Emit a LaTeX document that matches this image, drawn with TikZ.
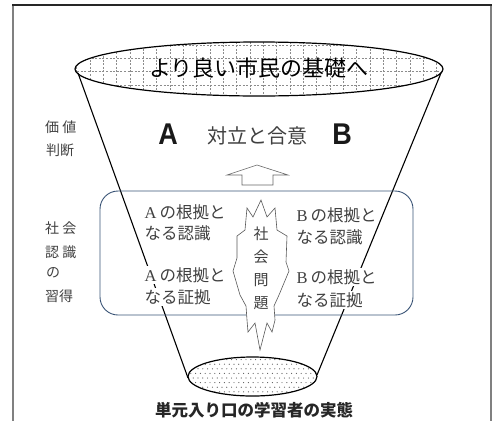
\documentclass[tikz,border=0pt]{standalone}
\usepackage{fontspec}
\setmainfont{Liberation Serif}
\newfontfamily\jp{Noto Sans CJK JP}
\newfontfamily\bigsans{Liberation Sans}
\definecolor{boxblue}{RGB}{58,84,118}
\begin{document}
\begin{tikzpicture}[x=1pt,y=-1pt,
  topline/.style={line width=1.3pt, draw=black!85},
  sideline/.style={line width=1.6pt, draw=black!50},
  gridl/.style={draw=black!45, line width=0.45pt, dash pattern=on 2pt off 1.6pt},
  funnel/.style={line width=1.1pt, draw=black},
  rim/.style={line width=1.2pt, draw=black},
  roundbox/.style={draw=boxblue, line width=0.9pt, rounded corners=18pt},
  hollow/.style={draw=black!60, line width=0.6pt, fill=white},
  jag/.style={draw=black!65, line width=0.6pt, fill=white, line join=miter},
  titletxt/.style={font=\jp\fontsize{22}{22}\selectfont, text=black},
  bigletter/.style={font=\bigsans\bfseries\fontsize{30}{30}\selectfont, text=black!90, xscale=0.9},
  midtxt/.style={font=\jp\fontsize{20}{20}\selectfont, text=black!75},
  lbl/.style={font=\jp\fontsize{14}{14}\selectfont, text=black!75, anchor=west, inner sep=0pt},
  boxtxt/.style={font=\jp\fontsize{16.5}{16.5}\selectfont, text=black!75, fill=white, anchor=west, inner sep=1.5pt},
  vtxt/.style={font=\jp\fontsize{15}{23}\selectfont, text=black!75, align=center, inner sep=0pt},
  entrytxt/.style={font=\jp\bfseries\fontsize{16.5}{16.5}\selectfont, text=black!85}
]
\useasboundingbox (0,0) rectangle (492,421);
% frame
\draw[sideline] (13,5) -- (13,421);
\draw[sideline] (491,5) -- (491,421);
\draw[topline] (12.2,5) -- (491.8,5);
% top ellipse with grid
\begin{scope}
  \clip (259,69) ellipse [x radius=184pt, y radius=27pt];
  \foreach \i in {0,...,28} \draw[gridl] ({76.67+13.33*\i},38) -- ({76.67+13.33*\i},100);
  \foreach \j in {-1,...,3} \draw[gridl] (70,{58.3+13.33*\j}) -- (450,{58.3+13.33*\j});
\end{scope}
% funnel
\coordinate (tl) at (78,73);
\coordinate (tr) at (441,73);
\coordinate (bl) at (188,378);
\coordinate (br) at (317,375);
\draw[funnel] (tl) -- (bl);
\draw[funnel] (tr) -- (br);
\draw[rim] (259,69) ellipse [x radius=184pt, y radius=27pt];
\node[titletxt] (goal) at (259,68) {より良い市民の基礎へ};
% value judgement row
\node[bigletter] (A) at (168,134) {A};
\node[bigletter] (B) at (342,134) {B};
\node[midtxt] (conf) at (257,136) {対立と合意};
% hollow arrow
\draw[hollow] (257,165) -- (288,175) -- (273,175) -- (273,185) -- (242,185) -- (242,175) -- (227,175) -- cycle;
% rounded box
\draw[roundbox] (100,191) rectangle (413,315);
% box texts
\node[boxtxt] (a1) at (143,212) {{\rmfamily A}\hspace{3pt}の根拠と};
\node[boxtxt] (a2) at (143,233) {なる認識};
\node[boxtxt] (a3) at (143,275) {{\rmfamily A}\hspace{3pt}の根拠と};
\node[boxtxt] (a4) at (143,297) {なる証拠};
\node[boxtxt] (b1) at (295,215) {{\rmfamily B}\hspace{3pt}の根拠と};
\node[boxtxt] (b2) at (295,237) {なる認識};
\node[boxtxt] (b3) at (295,277) {{\rmfamily B}\hspace{3pt}の根拠と};
\node[boxtxt] (b4) at (295,300) {なる証拠};
% jagged social issue shape
\draw[jag] (247,208) -- (253,217) -- (261,200) -- (267,217) -- (275,208) -- (277,230)
  -- (287,236) -- (286,262) -- (289,271) -- (279,295) -- (274,306) -- (275,320)
  -- (272,332) -- (267,323) -- (260,350) -- (255,323) -- (248,332) -- (247,320)
  -- (246,306) -- (240,295) -- (233,271) -- (237,258) -- (237,236) -- (245,230) -- cycle;
\node[vtxt] (issue) at (261,268) {社\\会\\問\\題};
% bottom ellipse
\begin{scope}
  \clip (252.5,376.5) ellipse [x radius=64.5pt, y radius=19.5pt];
  \foreach \r in {0,...,9} \foreach \c in {0,...,28}
    \fill[black!65] ({186+4.8*\c+2.4*mod(\r,2)},{355+4.6*\r}) circle (0.6pt);
\end{scope}
\draw[rim] (252.5,376.5) ellipse [x radius=64.5pt, y radius=19.5pt];
\node[entrytxt] (entry) at (254,410) {単元入り口の学習者の実態};
% left labels
\node[lbl] (v1) at (45,127) {価 値};
\node[lbl] (v2) at (46,150) {判断};
\node[lbl] (s1) at (45,228) {社 会};
\node[lbl] (s2) at (45,252) {認 識};
\node[lbl] (s3) at (46,273) {の};
\node[lbl] (s4) at (45,296) {習得};
\end{tikzpicture}
\end{document}
